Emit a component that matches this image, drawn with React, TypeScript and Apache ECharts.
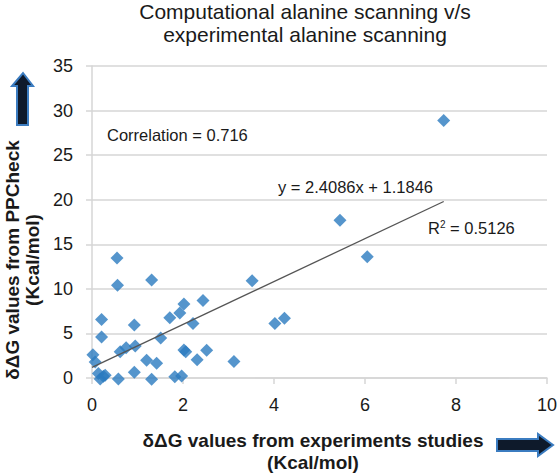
import React, { useEffect, useRef } from "react";
import * as echarts from "echarts";

// δΔG from experiments (x) vs δΔG from PPCheck (y)
const expValues = [
  7.73, 5.45, 6.05, 3.52, 4.02, 4.23, 3.12, 2.44, 2.02, 1.93,
  1.71, 2.22, 2.02, 2.06, 2.52, 2.31, 1.82, 1.97, 1.31, 0.55,
  0.56, 0.21, 0.93, 0.21, 1.51, 0.02, 0.07, 0.62, 0.75, 0.95,
  1.2, 1.42, 0.14, 0.25, 0.18, 0.58, 0.93, 1.31, 0.29,
];
const ppcheckValues = [
  28.9, 17.7, 13.6, 10.9, 6.1, 6.7, 1.85, 8.7, 8.3, 7.3,
  6.75, 6.1, 3.15, 2.95, 3.1, 2.05, 0.15, 0.22, 11.0, 13.45,
  10.4, 6.55, 5.95, 4.6, 4.5, 2.6, 1.8, 2.95, 3.4, 3.6,
  2.0, 1.65, 0.5, 0.2, -0.1, -0.1, 0.65, -0.15, 0.3,
];
const trendSlope = 2.4086;
const trendIntercept = 1.1846;
const xTickRange = [0, 10, 2];
const yTickRange = [0, 35, 5];

const titleText = "Computational alanine scanning v/s\nexperimental alanine scanning";
const xName = "δΔG values from experiments studies\n(Kcal/mol)";
const yName = "δΔG values from PPCheck\n(Kcal/mol)";
const correlationText = "Correlation = 0.716";
const equationText = "y = 2.4086x + 1.1846";

export default function App() {
  const ref = useRef<HTMLDivElement>(null);
  useEffect(() => {
    if (!ref.current) return;
    const chart = echarts.init(ref.current, null, { renderer: "svg" });
    const points = expValues.map((x, i) => [x, ppcheckValues[i]]);
    const maxX = Math.max(...expValues);
    const trend = [
      [0, trendIntercept],
      [maxX, trendSlope * maxX + trendIntercept],
    ];
    const font = "'Liberation Sans', Arial, sans-serif";
    const gridColor = "#d6d6d6";
    chart.setOption({
      animation: false,
      backgroundColor: "#ffffff",
      title: {
        text: titleText,
        left: 305,
        top: 0,
        textAlign: "center",
        padding: 0,
        textStyle: {
          fontFamily: font,
          fontSize: 21,
          fontWeight: "normal",
          lineHeight: 23,
          color: "#1a1a1a",
        },
      },
      grid: { left: 92, right: 12, top: 66, bottom: 95, containLabel: false },
      xAxis: {
        type: "value",
        min: xTickRange[0],
        max: xTickRange[1],
        interval: xTickRange[2],
        axisLine: { show: true, lineStyle: { color: gridColor, width: 1.5 } },
        axisTick: { show: true, length: 6, lineStyle: { color: gridColor, width: 1.5 } },
        splitLine: { show: false },
        axisLabel: { fontFamily: font, fontSize: 18, color: "#1a1a1a", margin: 18 },
      },
      yAxis: {
        type: "value",
        min: yTickRange[0],
        max: yTickRange[1],
        interval: yTickRange[2],
        axisLine: { show: true, lineStyle: { color: gridColor, width: 1.5 } },
        axisTick: { show: true, length: 6, lineStyle: { color: gridColor, width: 1.5 } },
        splitLine: { show: true, lineStyle: { color: gridColor, width: 1.5 } },
        axisLabel: { fontFamily: font, fontSize: 18, color: "#1a1a1a", margin: 19 },
      },
      series: [
        {
          type: "line",
          data: trend,
          symbol: "none",
          lineStyle: { color: "#555555", width: 1.3 },
          z: 3,
          silent: true,
        },
        {
          type: "scatter",
          data: points,
          symbol: "diamond",
          symbolSize: 13,
          clip: false,
          itemStyle: { color: "#2a7bbf" },
          z: 2,
        },
      ],
      graphic: [
        {
          type: "text",
          left: 107,
          top: 126,
          style: { text: correlationText, fontFamily: font, fontSize: 16.5, fill: "#1a1a1a" },
        },
        {
          type: "text",
          left: 278,
          top: 178,
          style: { text: equationText, fontFamily: font, fontSize: 16.5, fill: "#1a1a1a" },
        },
        {
          type: "text",
          left: 428,
          top: 219,
          style: {
            text: "{a|R}{s|2}{a| = 0.5126}",
            rich: {
              a: { fontFamily: font, fontSize: 16.5, fill: "#1a1a1a", color: "#1a1a1a" },
              s: { fontFamily: font, fontSize: 10, fill: "#1a1a1a", color: "#1a1a1a", verticalAlign: "top", padding: [0, 0, 8, 0] },
            },
          },
        },
        {
          type: "text",
          x: 313,
          y: 451,
          style: {
            text: xName,
            fontFamily: font,
            fontSize: 19,
            fontWeight: "bold",
            lineHeight: 22,
            fill: "#1a1a1a",
            align: "center",
            verticalAlign: "middle",
          },
        },
        {
          type: "text",
          x: 22,
          y: 260,
          rotation: Math.PI / 2,
          style: {
            text: yName,
            fontFamily: font,
            fontSize: 19,
            fontWeight: "bold",
            lineHeight: 20,
            fill: "#1a1a1a",
            align: "center",
            verticalAlign: "middle",
          },
        },
        {
          type: "polygon",
          shape: {
            points: [
              [23, 73], [33, 86], [28, 86], [28, 125], [17, 125], [17, 86], [12, 86],
            ],
          },
          style: { fill: "#0e1a2b", stroke: "#3b7cc0", lineWidth: 2 },
        },
        {
          type: "polygon",
          shape: {
            points: [
              [497, 439], [538, 439], [538, 434], [553, 445], [538, 456], [538, 451], [497, 451],
            ],
          },
          style: { fill: "#0e1a2b", stroke: "#3b7cc0", lineWidth: 2 },
        },
      ],
    });
    return () => chart.dispose();
  }, []);
  return (
    <div
      ref={ref}
      style={{ position: "fixed", left: 0, top: 0, width: 560, height: 473 }}
    />
  );
}
